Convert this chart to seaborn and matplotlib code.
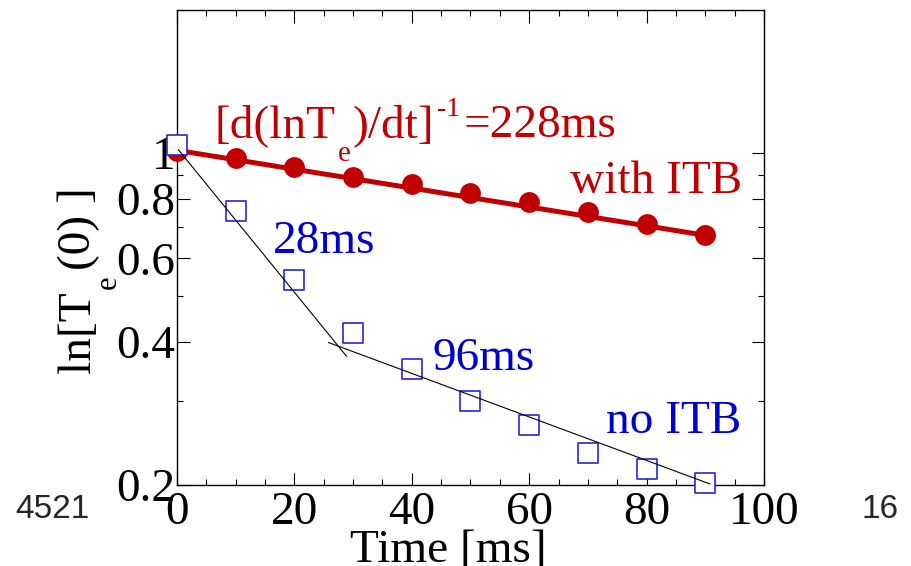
import numpy as np
import pandas as pd
import matplotlib
matplotlib.use("Agg")
import matplotlib.pyplot as plt
import seaborn as sns
from matplotlib.ticker import FixedLocator, FixedFormatter, NullFormatter, MultipleLocator

# ---------------- data ----------------
time_ms = [0, 10, 20, 30, 40, 50, 60, 70, 80, 90]
with_itb = [1.01, 0.976, 0.934, 0.892, 0.862, 0.825, 0.790, 0.751, 0.708, 0.671]
no_itb = [1.039, 0.754, 0.540, 0.417, 0.351, 0.300, 0.267, 0.233, 0.216, 0.202]

fit_itb_x = [0, 90]
fit_itb_y = [1.013, 0.671]
fit_fast_x = [0.2, 28.9]
fit_fast_y = [1.017, 0.373]
fit_slow_x = [25.8, 90.8]
fit_slow_y = [0.399, 0.201]

x_major = [0, 20, 40, 60, 80, 100]
y_major = [0.2, 0.4, 0.6, 0.8, 1.0]
y_major_labels = ["0.2", "0.4", "0.6", "0.8", "1"]
y_minor = [0.3, 0.5, 0.7, 0.9]

RED = "#C00000"
BLUE = "#0000CC"
SQ_BLUE = "#2626DD"

# ---------------- style ----------------
sns.set_style("ticks")
plt.rcParams["font.family"] = ["Liberation Serif", "DejaVu Serif"]

W, H = 912, 566
fig = plt.figure(figsize=(W / 100, H / 100), dpi=100)
ax = fig.add_axes([177 / W, 1 - 485 / H, (764 - 177) / W, (485 - 10) / H])
ax.set_yscale("log")

# red fit line + circles
sns.lineplot(x=fit_itb_x, y=fit_itb_y, ax=ax, color=RED, linewidth=3.6, zorder=2)
sns.scatterplot(x=time_ms, y=with_itb, ax=ax, color=RED, marker="o", s=225,
                linewidth=0, zorder=3, clip_on=False, legend=False)
# blue open squares
sns.scatterplot(x=time_ms, y=no_itb, ax=ax, color=SQ_BLUE, marker="s", s=225,
                linewidth=1.2, zorder=4, clip_on=False, legend=False)
sq = ax.collections[-1]
sq.set_facecolor("white")
sq.set_edgecolor(SQ_BLUE)
# black fit lines
sns.lineplot(x=fit_fast_x, y=fit_fast_y, ax=ax, color="black", linewidth=0.8, zorder=5)
sns.lineplot(x=fit_slow_x, y=fit_slow_y, ax=ax, color="black", linewidth=0.8, zorder=5)

ax.set_xlim(0, 100)
ax.set_ylim(0.2, 2.0)
ax.xaxis.set_major_locator(FixedLocator(x_major))
ax.xaxis.set_minor_locator(MultipleLocator(5))
ax.yaxis.set_major_locator(FixedLocator(y_major))
ax.yaxis.set_major_formatter(FixedFormatter(y_major_labels))
ax.yaxis.set_minor_locator(FixedLocator(y_minor))
ax.yaxis.set_minor_formatter(NullFormatter())

ax.tick_params(which="both", direction="in", top=True, right=True,
               width=0.8, color="black", labelsize=34, labelcolor="black")
ax.tick_params(which="major", length=9)
ax.tick_params(which="minor", length=4.5)
ax.tick_params(axis="x", which="major", pad=5)
ax.tick_params(axis="y", which="major", pad=1)
for s in ax.spines.values():
    s.set_visible(True)
    s.set_linewidth(1.0)
    s.set_color("black")
ax.set_xlabel("")
ax.set_ylabel("")

def fx(px):
    return px / W

def fy(py):
    return 1 - py / H

FS = 34

def t(px, py, s, **kw):
    kw.setdefault("fontsize", FS)
    kw.setdefault("ha", "left")
    kw.setdefault("va", "baseline")
    return fig.text(fx(px), fy(py), s, **kw)

# red annotation built from pieces: main text, lowered subscript, superscript
t(215, 137, "[d(lnT", color=RED)
t(338, 161, "e", color=RED, fontsize=21)
t(352, 137, ")/dt]", color=RED)
t(437, 116, "-1", color=RED, fontsize=20)
t(464, 137, "=228ms", color=RED)

t(570, 193, "with ITB", color=RED)
t(273, 253, "28ms", color=BLUE)
t(433, 370, "96ms", color=BLUE)
t(606, 433, "no ITB", color=BLUE)

# y label (rotated) in pieces
rk = dict(rotation=90, rotation_mode="anchor", color="black")
t(90, 373, "ln[T", **rk)
t(116, 289, "e", fontsize=22, **rk)
t(90, 270, "(0) ]", **rk)

t(448, 562, "Time [ms]", ha="center", color="black")

t(52, 510, "4521", fontsize=24, family="Liberation Sans", ha="center", va="center")
t(880, 509, "16", fontsize=24, family="Liberation Sans", ha="center", va="center")

fig.savefig("out.png", dpi=100)
